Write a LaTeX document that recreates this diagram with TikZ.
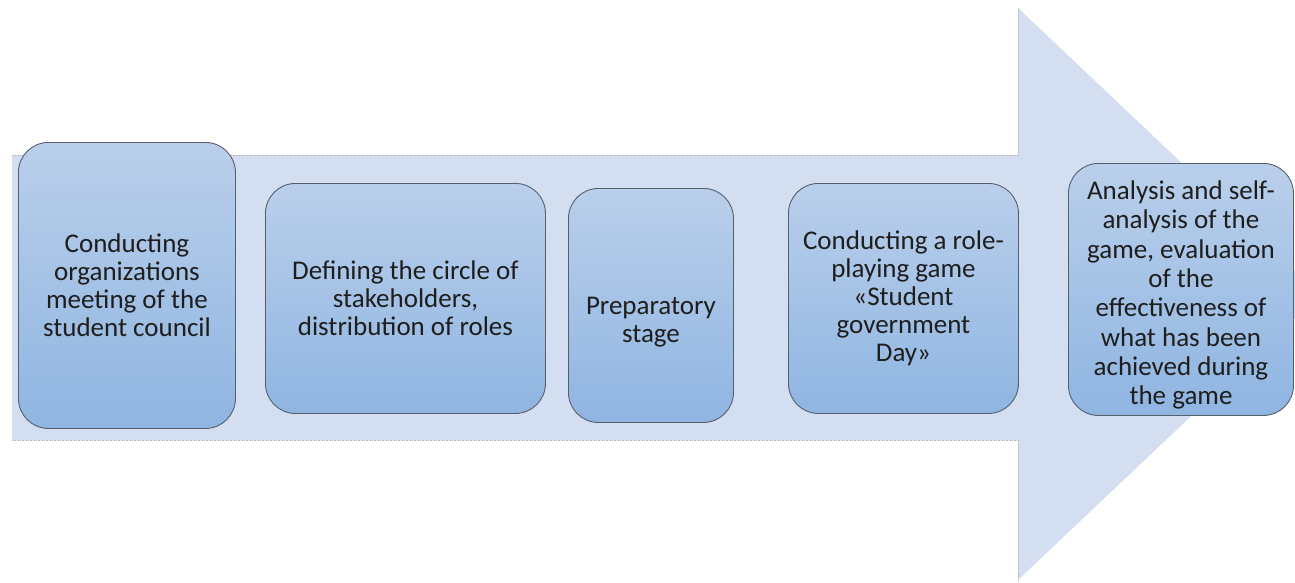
\documentclass[tikz,border=0pt]{standalone}
\usepackage{fontspec}
\setmainfont{Carlito}
\usepackage{xcolor}
\usetikzlibrary{positioning}
\definecolor{arrowblue}{RGB}{211,222,240}
\definecolor{boxtop}{RGB}{186,207,235}
\definecolor{boxbottom}{RGB}{143,181,225}
\definecolor{boxline}{RGB}{85,95,108}
\definecolor{textgray}{RGB}{30,30,30}

\begin{document}
\begin{tikzpicture}[x=1pt, y=-1pt,
    stagebox/.style={rectangle, rounded corners=30pt, draw=boxline, line width=0.9pt,
      top color=boxtop, bottom color=boxbottom, text=textgray, align=center,
      anchor=north west, inner sep=0pt, font=\fontsize{27}{28}\selectfont}]
        \clip (0,0) rectangle (1295,583);
        % the big arrow behind the stages
        \fill[arrowblue] (12,155) -- (1018,155) -- (1018,8) -- (1320,294)
            -- (1018,580) -- (1018,440) -- (12,440) -- cycle;
        \draw[gray!55, densely dotted, line width=0.6pt] (12,155) -- (1018,155) -- (1018,8);
        \draw[gray!55, densely dotted, line width=0.6pt] (12,440) -- (1018,440) -- (1018,580);
        
        \node (meeting) at (18,142) [stagebox, minimum width=217pt, minimum height=286pt]
            {Conducting\\organizations\\meeting of the\\student council};
        \node (roles) at (265,183) [stagebox, minimum width=280pt, minimum height=230pt]
            {Defining the circle of\\stakeholders,\\distribution of roles};
        \node (prep) at (568,188) [stagebox, minimum width=165pt, minimum height=234pt]
            {\rule{0pt}{50pt}Preparatory\\stage};
        \node (game) at (788,183) [stagebox, minimum width=230pt, minimum height=230pt]
            {Conducting a role-\\playing game\\«Student\\government\\Day»};
        \node (analysis) at (1068,163) [stagebox, minimum width=225pt, minimum height=252pt,
            font=\fontsize{27}{29.3}\selectfont]
            {\rule{0pt}{30pt}Analysis and self-\\analysis of the\\game, evaluation\\of the\\effectiveness of\\what has been\\achieved during\\the game};
    \end{tikzpicture}
\end{document}
